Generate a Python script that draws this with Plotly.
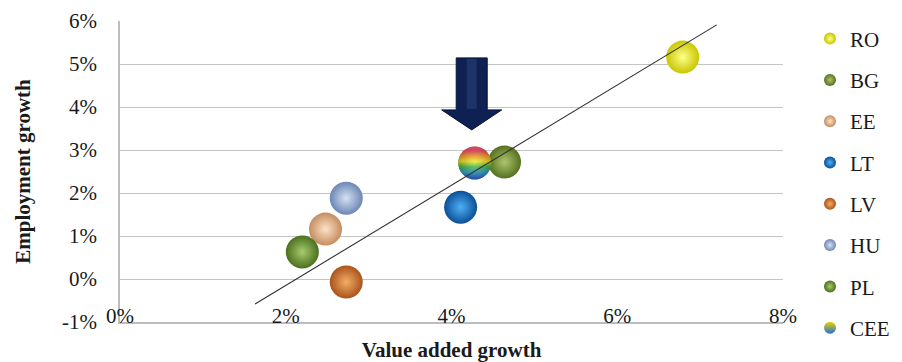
import numpy as np
import plotly.graph_objects as go

# Country observations: value added growth (x, %) vs employment growth (y, %)
countries = ["RO", "BG", "EE", "LT", "LV", "HU", "PL"]
value_added = [6.79, 4.64, 2.48, 4.11, 2.73, 2.73, 2.20]
employment = [5.16, 2.72, 1.16, 1.67, -0.07, 1.88, 0.63]

# Regional aggregate
cee_label = "CEE"
cee_value_added = [4.28]
cee_employment = [2.70]

# Fitted trend line end points
trend_x = [1.63, 7.20]
trend_y = [-0.58, 5.91]

# Axis ticks
x_ticks = [0, 2, 4, 6, 8]
x_tick_labels = ["0%", "2%", "4%", "6%", "8%"]
y_ticks = [-1, 0, 1, 2, 3, 4, 5, 6]
y_tick_labels = ["-1%", "0%", "1%", "2%", "3%", "4%", "5%", "6%"]

# Sphere shading: (edge colour, centre highlight colour)
sphere_colors = {
    "RO": ("#c9c600", "#ffff8a"),
    "BG": ("#55711f", "#aec56f"),
    "EE": ("#c58c5e", "#fde3c8"),
    "LT": ("#0a4f98", "#4fb0f5"),
    "LV": ("#a9541b", "#f4ad66"),
    "HU": ("#6c86b4", "#d6e2f4"),
    "PL": ("#4b6f1d", "#a7cb6d"),
}

FONT = "Liberation Serif"
FS = 21
TXT = "#1a1a1a"
W, H = 902, 362
L, R, T, B = 120, 119, 21, 40
X_RANGE = [0, 8]
Y_RANGE = [-1, 6]
BUBBLE = 33

fig = go.Figure()

for i, name in enumerate(countries):
    edge, centre = sphere_colors[name]
    fig.add_trace(go.Scatter(
        x=[value_added[i]], y=[employment[i]], mode="markers", name=name,
        legendgroup=name,
        marker=dict(size=BUBBLE, color=edge, line=dict(width=0),
                    gradient=dict(type="radial", color=centre)),
        hoverinfo="name+x+y",
    ))

# CEE sphere: a rainbow-filled disc built around the aggregate point
px_per_x = (W - L - R) / (X_RANGE[1] - X_RANGE[0])
px_per_y = (H - T - B) / (Y_RANGE[1] - Y_RANGE[0])
theta = np.linspace(0, 2 * np.pi, 73)
r_px = BUBBLE / 2
disc_x = cee_value_added[0] + (r_px / px_per_x) * np.cos(theta)
disc_y = cee_employment[0] + (r_px / px_per_y) * np.sin(theta)

fig.add_trace(go.Scatter(
    x=cee_value_added, y=cee_employment, mode="markers", name=cee_label,
    legendgroup=cee_label,
    marker=dict(size=BUBBLE, color="#f2d400", line=dict(width=0),
                gradient=dict(type="vertical", color="#1f6fd6")),
    hoverinfo="name+x+y",
))
fig.add_trace(go.Scatter(
    x=disc_x, y=disc_y, mode="lines", fill="toself", showlegend=False,
    legendgroup=cee_label, line=dict(width=0, color="rgba(0,0,0,0)"),
    fillgradient=dict(type="vertical", colorscale=[
        [0.0, "#2a5ad8"], [0.22, "#1fa8c8"], [0.38, "#3cb83a"],
        [0.55, "#f5ea10"], [0.72, "#ff9a1e"], [0.86, "#ff4a5a"],
        [1.0, "#ff5aa0"]]),
    hoverinfo="skip",
))
# soft shading on top of the rainbow disc
fig.add_trace(go.Scatter(
    x=cee_value_added, y=cee_employment, mode="markers", showlegend=False,
    legendgroup=cee_label,
    marker=dict(size=BUBBLE, color="rgba(40,20,40,0.28)", line=dict(width=0),
                gradient=dict(type="radial", color="rgba(255,255,255,0.25)")),
    hoverinfo="skip",
))

# Trend line
fig.add_trace(go.Scatter(
    x=trend_x, y=trend_y, mode="lines", showlegend=False,
    line=dict(color="#303030", width=1.1), hoverinfo="skip",
))

# Block arrow pointing down at the CEE aggregate (pixel offsets from the point)
arrow_path = ("M -18.5,105 L 12.5,105 L 12.5,53 L 27,53 "
              "L -3,33 L -33,53 L -18.5,53 Z")
fig.add_shape(type="path", xref="x", yref="y",
              xsizemode="pixel", ysizemode="pixel",
              xanchor=cee_value_added[0], yanchor=cee_employment[0],
              path=arrow_path, fillcolor="#0e2152",
              line=dict(color="#08143a", width=1))
fig.add_shape(type="path", xref="x", yref="y",
              xsizemode="pixel", ysizemode="pixel",
              xanchor=cee_value_added[0], yanchor=cee_employment[0],
              path="M -8,104 L 2,104 L 2,54 L -8,54 Z",
              fillcolor="rgba(60,90,150,0.35)", line=dict(width=0))

fig.update_layout(
    width=W, height=H,
    margin=dict(l=L, r=R, t=T, b=B, autoexpand=False),
    paper_bgcolor="white", plot_bgcolor="white",
    font=dict(family=FONT, size=FS, color=TXT),
    showlegend=True,
    legend=dict(
        xref="container", yref="container",
        x=0.898, y=0.949, xanchor="left", yanchor="top",
        traceorder="grouped", tracegroupgap=11, itemsizing="constant",
        maxheight=1,
        font=dict(family=FONT, size=FS, color=TXT),
        bgcolor="rgba(0,0,0,0)",
    ),
    xaxis=dict(
        range=X_RANGE, tickvals=x_ticks, ticktext=x_tick_labels,
        showgrid=False, zeroline=False,
        showline=True, linecolor="#bdbdbd", linewidth=1.5,
        ticks="", ticklabelposition="inside", ticklabeloverflow="allow",
        ticklabelstandoff=-4,
        tickfont=dict(family=FONT, size=FS, color=TXT),
        title=dict(text="<b>Value added growth</b>", standoff=20,
                   font=dict(family=FONT, size=FS, color=TXT)),
        fixedrange=True, automargin=False,
    ),
    yaxis=dict(
        range=Y_RANGE, tickvals=y_ticks, ticktext=y_tick_labels,
        showgrid=True, gridcolor="#c4c4c4", gridwidth=1.4,
        zeroline=False,
        showline=True, linecolor="#bdbdbd", linewidth=1.5,
        ticks="", ticklabelstandoff=17,
        tickfont=dict(family=FONT, size=FS, color=TXT),
        title=dict(text="<b>Employment growth</b>", standoff=26,
                   font=dict(family=FONT, size=FS, color=TXT)),
        fixedrange=True, automargin=False,
    ),
)

fig.write_html("out.html")
